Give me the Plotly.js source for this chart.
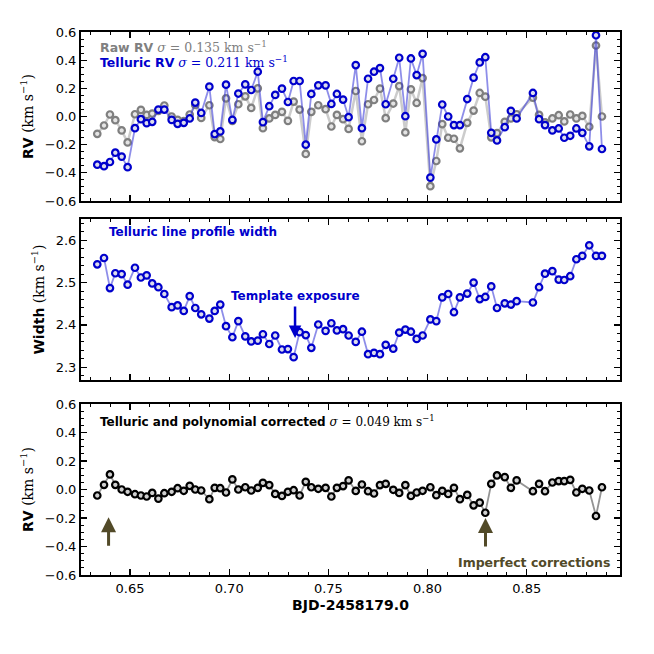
<!DOCTYPE html>
<html>
<head>
<meta charset="utf-8">
<script src="https://cdn.plot.ly/plotly-3.0.1.min.js"></script>
<style>html,body{margin:0;padding:0;background:#fff;}#chart{width:654px;height:654px;}</style>
</head>
<body>
<div id="chart"></div>
<script>
// BJD - 2458179.0
const bjd = [0.6335,0.6369,0.6399,0.6426,0.6458,0.6488,0.6525,0.6555,0.6584,0.6612,
  0.6643,0.6673,0.6710,0.6740,0.6771,0.6801,0.6829,0.6859,0.6900,0.6927,
  0.6955,0.6984,0.7016,0.7046,0.7081,0.7111,0.7144,0.7170,0.7202,0.7232,
  0.7266,0.7296,0.7325,0.7355,0.7386,0.7414,0.7449,0.7486,0.7515,0.7543,
  0.7574,0.7602,0.7638,0.7669,0.7700,0.7730,0.7760,0.7789,0.7827,0.7857,
  0.7888,0.7916,0.7945,0.7975,0.8014,0.8044,0.8074,0.8104,0.8133,0.8163,
  0.8200,0.8232,0.8263,0.8291,0.8321,0.8350,0.8389,0.8420,0.8449,0.8531,
  0.8562,0.8592,0.8629,0.8661,0.8689,0.8719,0.8750,0.8780,0.8815,0.8849,0.8879];

const rawRV = [-0.123,-0.064,0.014,-0.026,-0.099,-0.184,0.016,0.047,0.011,0.021,
  0.040,0.078,0.000,-0.024,-0.033,0.014,0.082,-0.010,0.080,-0.146,
  -0.160,0.129,-0.031,0.087,0.143,0.061,0.200,-0.083,-0.014,0.011,
  0.033,-0.031,0.106,0.049,-0.266,0.033,0.080,0.052,-0.071,0.011,
  -0.019,-0.088,0.181,-0.176,0.087,0.117,0.198,-0.012,0.092,0.216,
  -0.113,0.193,0.096,0.273,-0.495,-0.316,-0.054,-0.151,-0.158,-0.226,
  -0.045,0.042,0.167,0.141,-0.148,-0.118,-0.038,-0.014,0.016,0.134,
  0.011,-0.042,-0.014,0.009,-0.035,0.014,-0.014,0.004,-0.073,0.504,0.000];

const telluricRV = [-0.342,-0.353,-0.323,-0.257,-0.285,-0.360,-0.083,-0.019,-0.047,-0.038,
  0.049,0.049,-0.024,-0.052,-0.045,-0.014,0.099,0.025,0.212,-0.125,
  -0.106,0.226,-0.024,0.163,0.228,0.188,0.318,-0.040,0.073,0.153,
  0.198,0.103,0.252,0.252,-0.200,0.160,0.221,0.221,0.089,0.160,
  0.120,-0.005,0.365,-0.083,0.268,0.318,0.344,0.087,0.268,0.417,
  0.002,0.412,0.294,0.445,-0.434,-0.163,0.085,0.000,-0.061,-0.061,
  0.124,0.276,0.384,0.421,-0.116,-0.170,-0.076,0.040,-0.014,0.167,
  -0.019,-0.061,-0.099,-0.085,-0.151,-0.137,-0.085,-0.116,-0.212,0.577,-0.231];

const lineWidth = [2.543,2.558,2.487,2.522,2.520,2.495,2.535,2.512,2.517,2.498,
  2.489,2.473,2.442,2.446,2.433,2.468,2.440,2.425,2.415,2.433,
  2.448,2.397,2.371,2.409,2.373,2.361,2.363,2.378,2.355,2.375,
  2.342,2.343,2.324,2.383,2.376,2.346,2.401,2.386,2.404,2.387,
  2.390,2.375,2.360,2.384,2.331,2.334,2.331,2.353,2.344,2.382,
  2.389,2.384,2.367,2.375,2.413,2.409,2.465,2.473,2.430,2.465,
  2.474,2.500,2.461,2.466,2.491,2.440,2.451,2.448,2.456,2.453,
  2.489,2.521,2.527,2.507,2.506,2.515,2.555,2.563,2.588,2.563,2.563];

const correctedRV = [-0.042,0.033,0.106,0.033,0.000,-0.016,-0.033,-0.042,-0.049,-0.024,
  -0.064,-0.026,-0.016,0.009,-0.009,0.026,0.000,-0.007,-0.068,0.012,
  0.009,-0.021,0.071,0.000,0.016,-0.007,0.012,0.047,0.031,-0.031,
  -0.045,-0.016,-0.005,-0.042,0.054,0.016,0.005,0.012,-0.049,0.012,
  0.024,0.064,-0.010,0.035,-0.012,-0.028,0.031,0.040,-0.002,-0.024,
  0.031,-0.045,-0.021,-0.009,0.016,-0.040,-0.009,-0.031,0.012,-0.068,
  -0.038,-0.111,-0.092,-0.163,0.040,0.099,0.087,0.012,0.064,-0.012,
  0.040,-0.012,0.049,0.059,0.059,0.068,-0.021,0.005,-0.007,-0.186,0.016];

const rvTicks = [-0.6,-0.4,-0.2,0.0,0.2,0.4,0.6];
const widthTicks = [2.3,2.4,2.5,2.6];
const xTicks = [0.65,0.70,0.75,0.80,0.85];

const BLUE = '#0000cc';
const OLIVE = '#524a28';
const serif = "font-family:'DejaVu Serif'";

function mk(y, xa, ya, lineCol, lw, edge, fill) {
  return {x: bjd, y: y, xaxis: xa, yaxis: ya, mode: 'lines+markers', type: 'scatter',
    line: {color: lineCol, width: lw},
    marker: {symbol: 'circle', size: 6.5, color: fill, line: {color: edge, width: 2.2}},
    hoverinfo: 'skip', showlegend: false};
}

const traces = [
  mk(rawRV, 'x', 'y', 'rgba(128,128,128,0.4)', 2.5, '#7f7f7f', '#e4e4e4'),
  mk(telluricRV, 'x', 'y', 'rgba(50,50,215,0.55)', 1.8, BLUE, '#dcdcec'),
  mk(lineWidth, 'x2', 'y2', 'rgba(50,50,215,0.55)', 1.8, BLUE, '#dcdcec'),
  mk(correctedRV, 'x3', 'y3', 'rgba(90,90,90,0.65)', 1.8, '#000000', '#cfcfcf')
];

const fontTick = {family: 'DejaVu Sans', size: 13, color: '#000'};
function xax(anchor, labels) {
  return {anchor: anchor, range: [0.6253, 0.897], tickvals: xTicks, ticktext: xTicks.map(v => v.toFixed(2)),
    showticklabels: labels, ticks: 'inside', ticklen: 6, tickwidth: 1.2, tickcolor: '#000',
    minor: {dtick: 0.01, tick0: 0.6, ticks: 'inside', ticklen: 3, tickwidth: 1, tickcolor: '#000'},
    showline: true, linecolor: '#000', linewidth: 2, mirror: 'ticks', showgrid: false, zeroline: false,
    tickfont: fontTick};
}
function yax(domain, range, tv, minorD, title) {
  return {domain: domain, range: range, tickvals: tv, ticktext: tv.map(v => (v < 0 ? '\u2212' : '') + Math.abs(v).toFixed(1)),
    ticks: 'inside', ticklen: 6, tickwidth: 1.2, tickcolor: '#000',
    minor: {dtick: minorD, tick0: 0, ticks: 'inside', ticklen: 3, tickwidth: 1, tickcolor: '#000'},
    showline: true, linecolor: '#000', linewidth: 2, mirror: 'ticks', showgrid: false, zeroline: false,
    tickfont: fontTick,
    title: {text: title, font: {family: 'DejaVu Sans', size: 14, color: '#000'}, standoff: 8}};
}

const unit = "<span style=\"" + serif + "\">(km s<sup>\u22121</sup>)</span>";

const layout = {
  width: 654, height: 654,
  margin: {l: 81, r: 34, t: 32, b: 79},
  paper_bgcolor: '#fff', plot_bgcolor: '#fff',
  showlegend: false,
  xaxis: xax('y', false),
  xaxis2: xax('y2', false),
  xaxis3: Object.assign(xax('y3', true), {title: {text: '<b>BJD-2458179.0</b>', font: {family: 'DejaVu Sans', size: 14, color: '#000'}, standoff: 6}}),
  yaxis: yax([0.6888, 1], [-0.6, 0.6], rvTicks, 0.05, '<b>RV</b> ' + unit),
  yaxis2: yax([0.3591, 0.6556], [2.27, 2.65], widthTicks, 0.02, '<b>Width</b> ' + unit),
  yaxis3: yax([0, 0.3149], [-0.6, 0.6], rvTicks, 0.05, '<b>RV</b> ' + unit),
  annotations: [
    {xref: 'x', yref: 'y', x: 0.6339, y: 0.497, xanchor: 'left', yanchor: 'middle', showarrow: false,
     text: "<b>Raw RV</b> <span style=\"" + serif + "\"><i>\u03c3</i> = 0.135 km s<sup>\u22121</sup></span>",
     font: {family: 'DejaVu Sans', size: 12.5, color: '#808080'}},
    {xref: 'x', yref: 'y', x: 0.6339, y: 0.384, xanchor: 'left', yanchor: 'middle', showarrow: false,
     text: "<b>Telluric RV</b> <span style=\"" + serif + "\"><i>\u03c3</i> = 0.211 km s<sup>\u22121</sup></span>",
     font: {family: 'DejaVu Sans', size: 12.5, color: BLUE}},
    {xref: 'x2', yref: 'y2', x: 0.6384, y: 2.619, xanchor: 'left', yanchor: 'middle', showarrow: false,
     text: '<b>Telluric line profile width</b>', font: {family: 'DejaVu Sans', size: 12, color: BLUE}},
    {xref: 'x2', yref: 'y2', x: 0.7332, y: 2.468, xanchor: 'center', yanchor: 'middle', showarrow: false,
     text: '<b>Template exposure</b>', font: {family: 'DejaVu Sans', size: 12, color: BLUE}},
    {xref: 'x2', yref: 'y2', x: 0.7332, y: 2.369, ax: 0, ay: -33, showarrow: true, text: '',
     arrowhead: 2, arrowsize: 1, arrowwidth: 2.5, arrowcolor: BLUE},
    {xref: 'x3', yref: 'y3', x: 0.6339, y: 0.48, xanchor: 'left', yanchor: 'middle', showarrow: false,
     text: "<b>Telluric and polynomial corrected</b> <span style=\"" + serif + "\"><i>\u03c3</i> = 0.049 km s<sup>\u22121</sup></span>",
     font: {family: 'DejaVu Sans', size: 12, color: '#000'}},
    {xref: 'x3', yref: 'y3', x: 0.6392, y: -0.195, ax: 0, ay: 30, showarrow: true, text: '',
     arrowhead: 2, arrowsize: 1, arrowwidth: 3, arrowcolor: OLIVE},
    {xref: 'x3', yref: 'y3', x: 0.8292, y: -0.2, ax: 0, ay: 30, showarrow: true, text: '',
     arrowhead: 2, arrowsize: 1, arrowwidth: 3, arrowcolor: OLIVE},
    {xref: 'x3', yref: 'y3', x: 0.8929, y: -0.51, xanchor: 'right', yanchor: 'middle', showarrow: false,
     text: '<b>Imperfect corrections</b>', font: {family: 'DejaVu Sans', size: 12.5, color: OLIVE}}
  ]
};

Plotly.newPlot('chart', traces, layout, {displayModeBar: false, staticPlot: true});
</script>
</body>
</html>
